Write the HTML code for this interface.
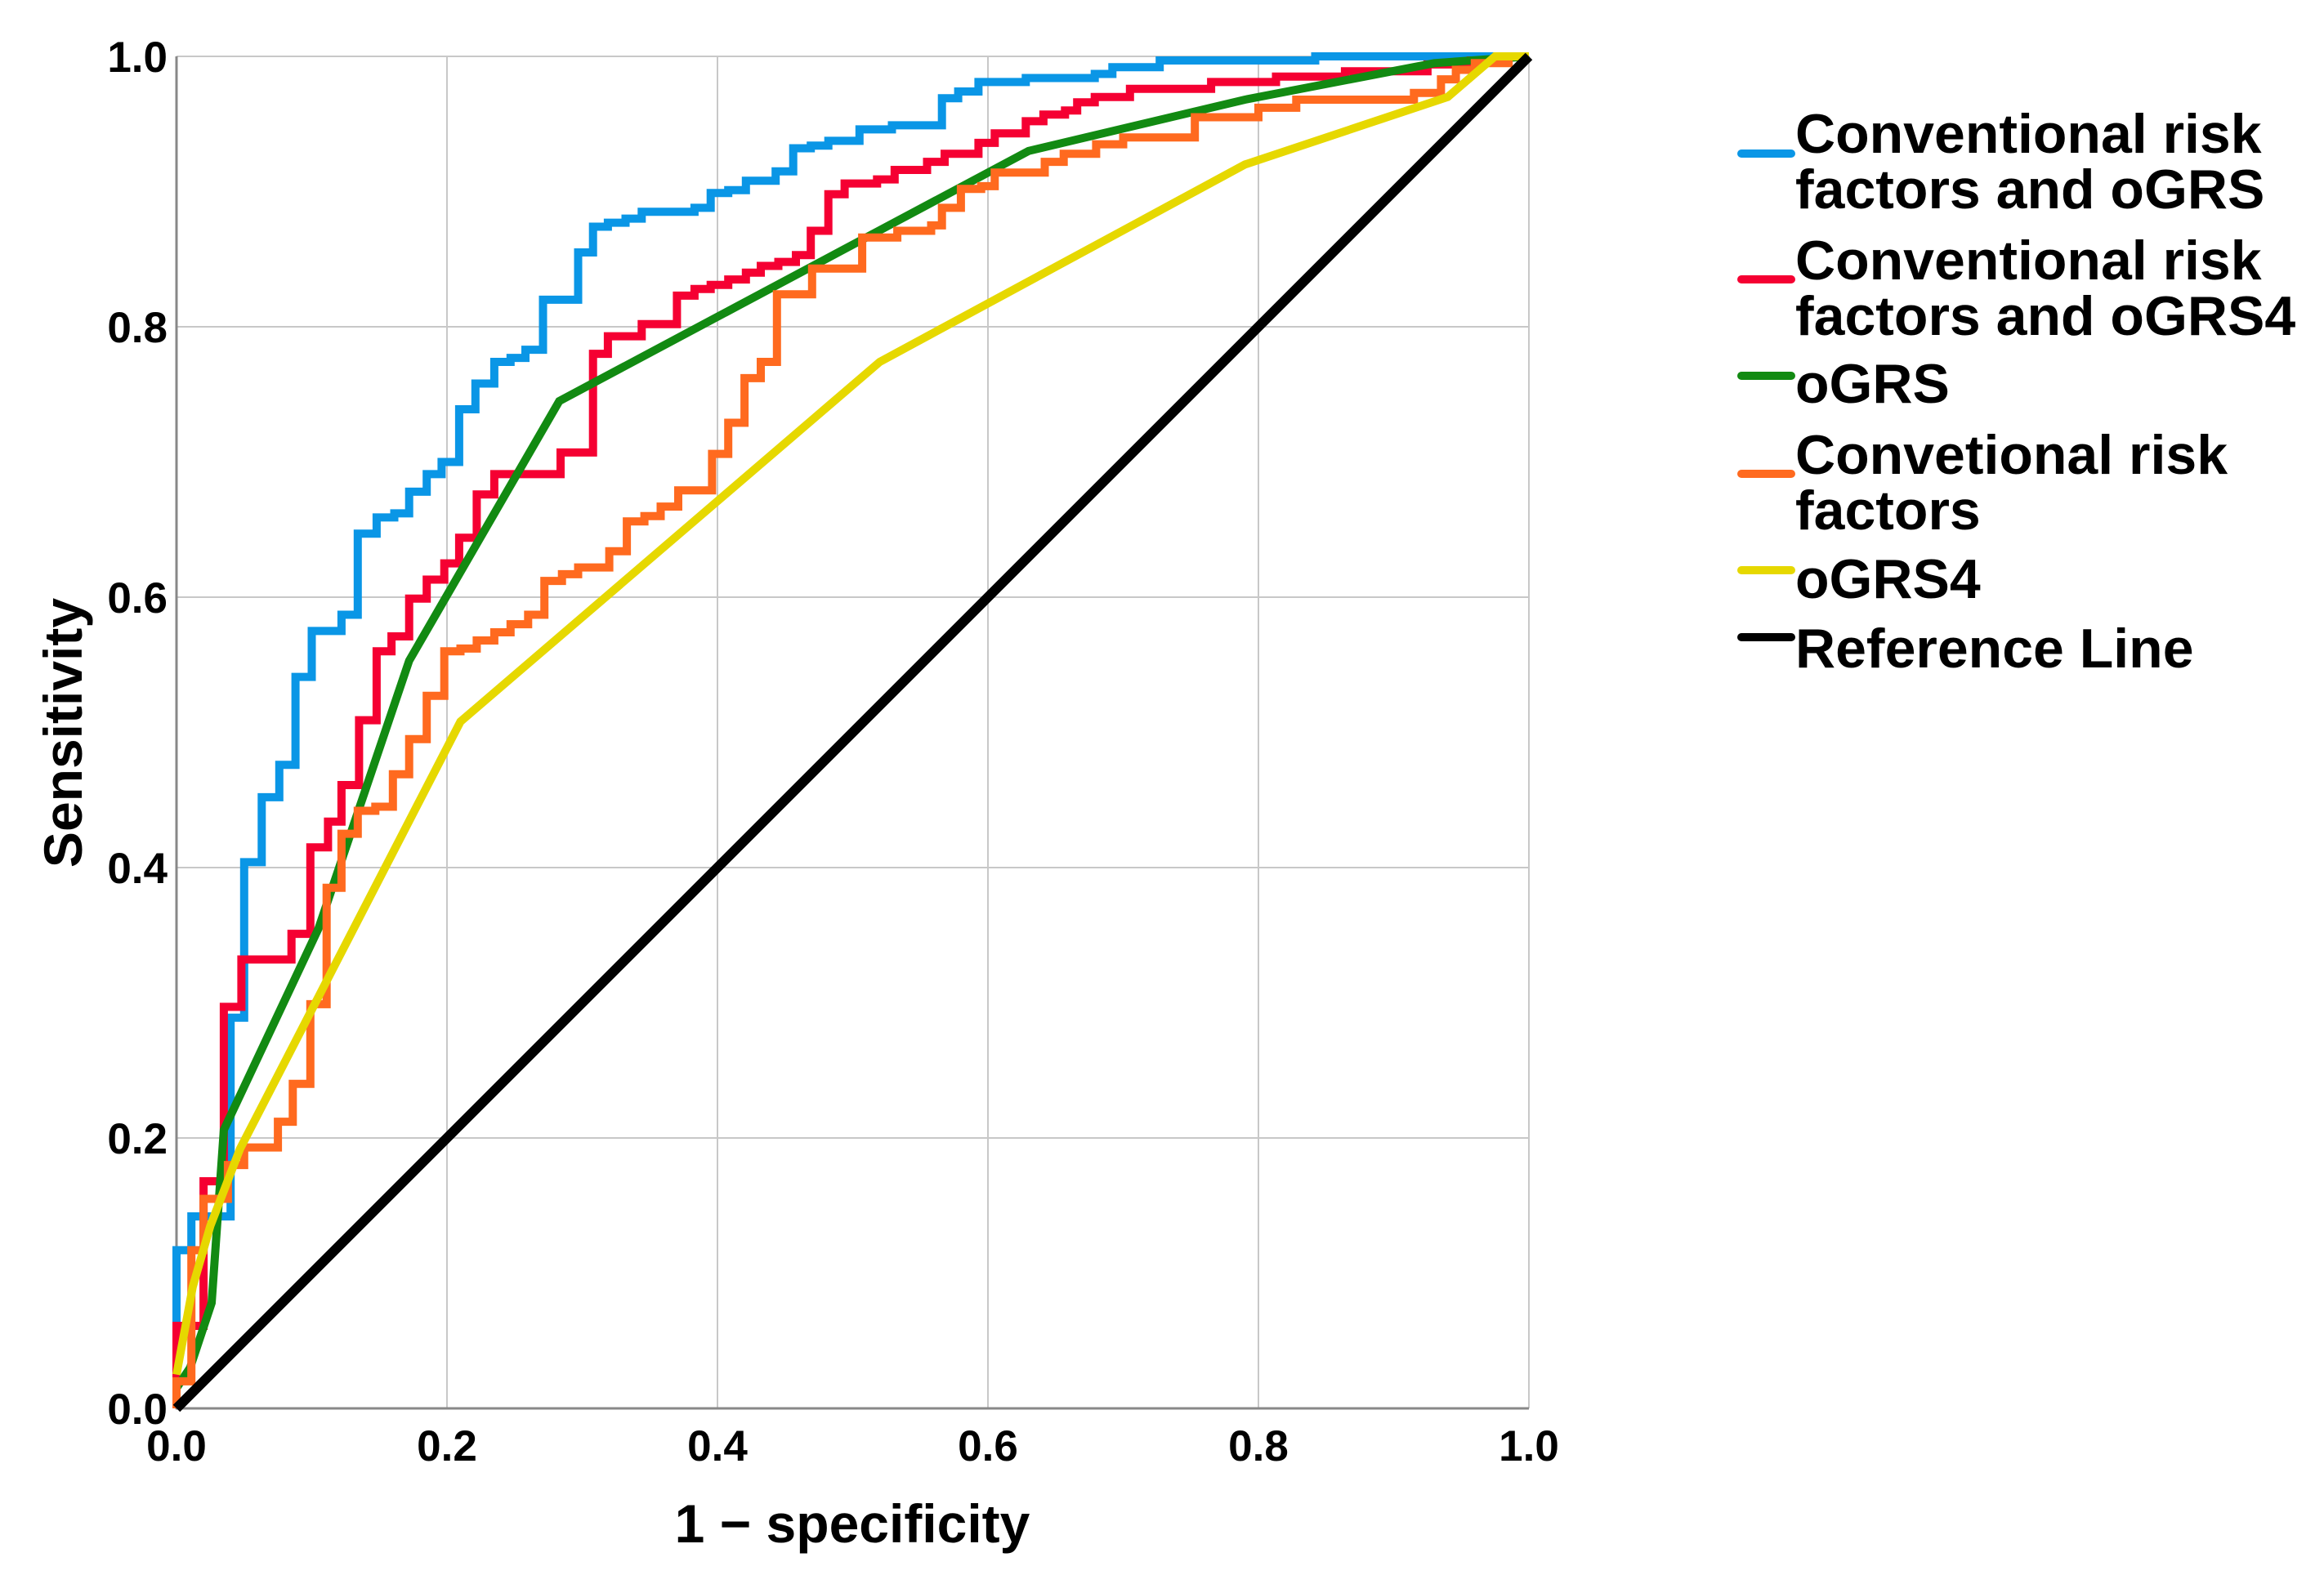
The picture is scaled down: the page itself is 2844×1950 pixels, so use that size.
<!DOCTYPE html>
<html><head><meta charset="utf-8"><style>
html,body{margin:0;padding:0;background:#fff;}
svg{display:block;font-family:"Liberation Sans",Arial,sans-serif;font-weight:bold;}
</style></head><body>
<svg id="chart" width="2844" height="1950" viewBox="0 0 2844 1950" xmlns="http://www.w3.org/2000/svg">
<rect width="2844" height="1950" fill="#fff"/>
<g id="grid"></g>
<g id="axes"></g>
<g id="series"></g>
<text x="1043" y="1888" font-size="66" text-anchor="middle">1 − specificity</text>
<text x="0" y="0" font-size="66" text-anchor="middle" transform="translate(100,897) rotate(-90)">Sensitivity</text>
<g id="legend"></g>
</svg>
<script>
const ticks = [0, 0.2, 0.4, 0.6, 0.8, 1.0];
const tickLabels = ["0.0","0.2","0.4","0.6","0.8","1.0"];

// step curves: x where the step happens, new sensitivity after the step
const blueX = [0,0.011,0.040,0.050,0.063,0.076,0.088,0.100,0.122,0.134,0.148,0.161,0.172,0.185,0.196,0.209,0.221,0.235,0.247,0.258,0.271,0.297,0.308,0.319,0.332,0.344,0.383,0.395,0.408,0.421,0.443,0.456,0.469,0.482,0.505,0.529,0.566,0.578,0.593,0.628,0.679,0.692,0.727,0.842];
const blueY = [0.117,0.142,0.289,0.404,0.452,0.476,0.541,0.575,0.587,0.647,0.659,0.662,0.678,0.691,0.700,0.739,0.758,0.774,0.777,0.783,0.820,0.855,0.874,0.877,0.880,0.885,0.888,0.899,0.901,0.908,0.915,0.932,0.934,0.9375,0.946,0.949,0.969,0.974,0.981,0.984,0.987,0.992,0.997,1];

const redX = [0,0.020,0.035,0.048,0.085,0.099,0.112,0.122,0.135,0.148,0.159,0.172,0.185,0.198,0.209,0.222,0.235,0.284,0.308,0.319,0.344,0.370,0.383,0.395,0.408,0.421,0.432,0.445,0.458,0.469,0.482,0.494,0.518,0.531,0.555,0.568,0.593,0.605,0.628,0.641,0.657,0.666,0.679,0.705,0.765,0.813,0.864,0.925,0.957,0.982];
const redY = [0.061,0.168,0.297,0.332,0.351,0.415,0.434,0.461,0.509,0.560,0.571,0.599,0.613,0.625,0.644,0.676,0.691,0.707,0.780,0.793,0.802,0.823,0.828,0.831,0.835,0.840,0.845,0.848,0.853,0.871,0.898,0.906,0.909,0.916,0.922,0.928,0.936,0.943,0.952,0.957,0.960,0.966,0.970,0.976,0.981,0.985,0.989,0.994,0.997,1];

const orangeX = [0,0.011,0.020,0.038,0.050,0.075,0.086,0.099,0.111,0.122,0.134,0.147,0.160,0.172,0.185,0.198,0.210,0.222,0.235,0.247,0.260,0.272,0.285,0.297,0.320,0.333,0.346,0.358,0.371,0.396,0.408,0.420,0.432,0.444,0.470,0.507,0.533,0.558,0.566,0.580,0.595,0.605,0.642,0.656,0.680,0.700,0.753,0.800,0.828,0.915,0.935,0.946,0.960,0.985];
const orangeY = [0.020,0.117,0.155,0.180,0.193,0.212,0.240,0.299,0.385,0.425,0.442,0.445,0.469,0.495,0.527,0.560,0.562,0.568,0.574,0.580,0.587,0.612,0.617,0.622,0.634,0.656,0.660,0.667,0.679,0.706,0.729,0.762,0.774,0.824,0.843,0.866,0.871,0.875,0.888,0.902,0.904,0.914,0.922,0.928,0.935,0.940,0.955,0.962,0.968,0.973,0.983,0.990,0.995,1];

// polyline curves
const greenX = [0,0,0.010,0.026,0.035,0.105,0.172,0.283,0.630,0.790,0.930,1];
const greenY = [0,0.015,0.030,0.078,0.206,0.355,0.553,0.745,0.930,0.968,0.995,1];

const yellowX = [0,0.012,0.025,0.047,0.210,0.520,0.790,0.940,0.975,1];
const yellowY = [0.025,0.090,0.135,0.192,0.508,0.774,0.920,0.970,1,1];

const refX = [0,1];
const refY = [0,1];

const L=216,R=1871,T=69,B=1724;
function sx(v){return L+v*(R-L);}
function sy(v){return B-v*(B-T);}
const NS="http://www.w3.org/2000/svg";
function mk(tag,attrs,parent){const e=document.createElementNS(NS,tag);for(const k in attrs)e.setAttribute(k,attrs[k]);parent.appendChild(e);return e;}

function stepPts(xs,ys){
  const p=[[0,0]];let py=0;
  xs.forEach((x,i)=>{p.push([x,py]);p.push([x,ys[i]]);py=ys[i];});
  p.push([1,py]);p.push([1,1]);
  return p.map(q=>sx(q[0]).toFixed(1)+','+sy(q[1]).toFixed(1)).join(' ');
}
function linePts(xs,ys){
  return xs.map((x,i)=>sx(x).toFixed(1)+','+sy(ys[i]).toFixed(1)).join(' ');
}

const grid=document.getElementById('grid');
const axes=document.getElementById('axes');
ticks.forEach((t,i)=>{
  if(t>0){
    const gv=mk('line',{x1:sx(t),x2:sx(t),y1:T,y2:B,stroke:'#c8c8c8','stroke-width':2},grid);
    
    
    const gh=mk('line',{x1:L,x2:R,y1:sy(t),y2:sy(t),stroke:'#c8c8c8','stroke-width':2},grid);
    
    
  }
  const yl=mk('text',{x:205,y:sy(t)+19,'font-size':53,'text-anchor':'end'},axes);
  yl.textContent=tickLabels[i];
  
  
  const xl=mk('text',{x:sx(t),y:1788,'font-size':53,'text-anchor':'middle'},axes);
  xl.textContent=tickLabels[i];
  
  
});
const ax1=mk('line',{x1:L,x2:L,y1:T,y2:B+1,stroke:'#888','stroke-width':3},axes);


const ax2=mk('line',{x1:L-1,x2:R,y1:B,y2:B,stroke:'#888','stroke-width':3},axes);



const ser=document.getElementById('series');
const defs=[
  [stepPts(blueX,blueY),'#0a96e6',10,'curve-conventional-ogrs'],
  [stepPts(redX,redY),'#f50032',10,'curve-conventional-ogrs4'],
  [linePts(greenX,greenY),'#128a12',10,'curve-ogrs'],
  [stepPts(orangeX,orangeY),'#ff6a1f',10,'curve-conventional'],
  [linePts(yellowX,yellowY),'#e6d800',10,'curve-ogrs4'],
  [linePts(refX,refY),'#000',12,'reference-line']];
defs.forEach(d=>{
  const p=mk('polyline',{points:d[0],fill:'none',stroke:d[1],'stroke-width':d[2],'stroke-linejoin':'miter','stroke-linecap':'butt'},ser);
  
  
});

const leg=document.getElementById('legend');
const legColors=['#0a96e6','#f50032','#128a12','#ff6a1f','#e6d800','#000'];
const legLineY=[188,342,460,580,698,780];
const legLines=[["Conventional risk","factors and oGRS"],["Conventional risk","factors and oGRS4"],["oGRS"],["Convetional risk","factors"],["oGRS4"],["Reference Line"]];
const legBase=[187,342,493,580,732,817];
legLines.forEach((lines,i)=>{
  const g=mk('g',{},leg);
  
  
  const sw=mk('line',{x1:2131,x2:2192,y1:legLineY[i],y2:legLineY[i],stroke:legColors[i],'stroke-width':10,'stroke-linecap':'round'},g);
  
  
  lines.forEach((s,j)=>{
    const t=mk('text',{x:2197,y:legBase[i]+j*68,'font-size':68},g);
    t.textContent=s;
    
    
  });
});
</script>
</body></html>
